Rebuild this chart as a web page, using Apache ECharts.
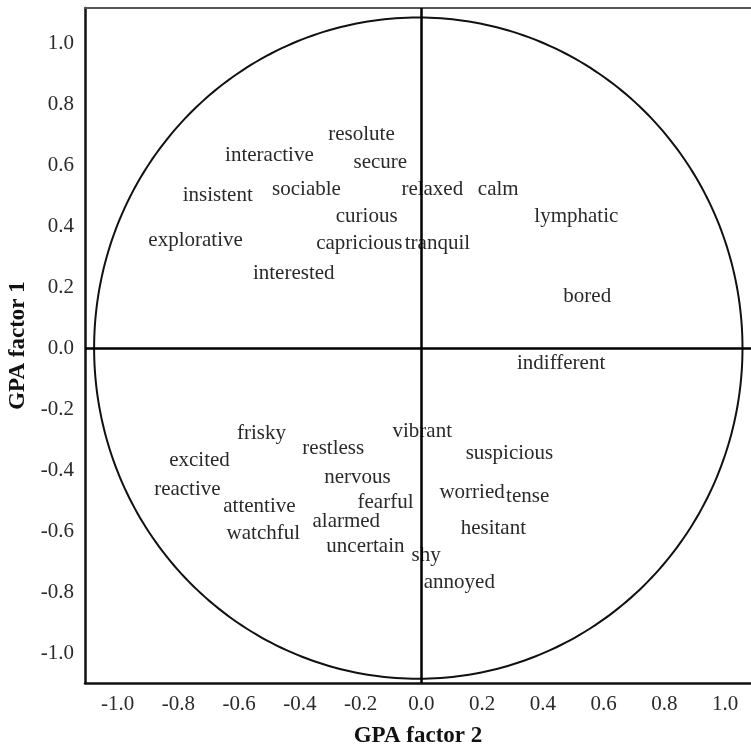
<!DOCTYPE html>
<html>
<head>
<meta charset="utf-8">
<script src="https://cdn.jsdelivr.net/npm/echarts@6/dist/echarts.min.js"></script>
<style>
html,body{margin:0;padding:0;background:#fff;}
#main{width:751px;height:746px;}
</style>
</head>
<body>
<div id="main"></div>
<script>
// ---- data ----
var words = ["resolute","interactive","secure","insistent","sociable","relaxed","calm","curious","lymphatic","explorative","capricious","tranquil","interested","bored","indifferent","frisky","restless","vibrant","excited","suspicious","nervous","reactive","attentive","fearful","worried","tense","alarmed","watchful","hesitant","uncertain","shy","annoyed"];
var factor2 = [-0.197,-0.50,-0.135,-0.67,-0.378,0.036,0.253,-0.18,0.51,-0.743,-0.204,0.053,-0.42,0.546,0.46,-0.526,-0.29,0.003,-0.73,0.29,-0.21,-0.77,-0.533,-0.118,0.167,0.35,-0.247,-0.52,0.237,-0.184,0.016,0.125];
var factor1 = [0.70,0.63,0.61,0.50,0.52,0.52,0.52,0.43,0.43,0.354,0.344,0.344,0.246,0.17,-0.05,-0.279,-0.328,-0.272,-0.37,-0.345,-0.423,-0.463,-0.518,-0.505,-0.472,-0.488,-0.567,-0.607,-0.593,-0.652,-0.679,-0.77];
var tickValues = [-1.0,-0.8,-0.6,-0.4,-0.2,0.0,0.2,0.4,0.6,0.8,1.0];
var xTitle = "GPA factor 2";
var yTitle = "GPA factor 1";

var FONT = "'Liberation Serif','DejaVu Serif',serif";
var chart = echarts.init(document.getElementById('main'), null, {renderer:'canvas'});

var textData = words.map(function(w,i){ return {name:w, value:[factor2[i], factor1[i]]}; });

var option = {
  animation:false,
  backgroundColor:'#fff',
  grid:{left:85, top:8, right:0, bottom:63, containLabel:false, outerBoundsMode:'none'},
  xAxis:[{
    type:'value', min:-1.107, max:1.085, position:'bottom',
    axisLine:{show:true, onZero:false, lineStyle:{color:'#111', width:2.5}},
    axisTick:{show:false},
    splitLine:{show:false},
    axisLabel:{customValues:tickValues, margin:11, color:'#2a2a2a', fontFamily:FONT, fontSize:21,
      formatter:function(v){return v.toFixed(1);}},
    name:xTitle, nameLocation:'middle', nameGap:42,
    nameTextStyle:{fontFamily:FONT, fontSize:23, fontWeight:'bold', color:'#111'}
  },{
    type:'value', min:-1.107, max:1.085, position:'top',
    axisLine:{show:true, onZero:false, lineStyle:{color:'#555', width:2}},
    axisTick:{show:false}, axisLabel:{show:false}, splitLine:{show:false}
  }],
  yAxis:[{
    type:'value', min:-1.098, max:1.115, position:'left',
    axisLine:{show:true, onZero:false, lineStyle:{color:'#111', width:2.5}},
    axisTick:{show:false},
    splitLine:{show:false},
    axisLabel:{customValues:tickValues, margin:11, color:'#2a2a2a', fontFamily:FONT, fontSize:21,
      formatter:function(v){return v.toFixed(1);}},
    name:yTitle, nameLocation:'middle', nameGap:50,
    nameTextStyle:{fontFamily:FONT, fontSize:23, fontWeight:'bold', color:'#111'}
  }],
  series:[{
    type:'custom',
    silent:true,
    data:[[0,0]],
    renderItem:function(params, api){
      var c = [-0.01, 0], rx = 1.067, ry = 1.084, pts = [];
      for (var k=0;k<=360;k++){
        var a = k*Math.PI/180;
        pts.push(api.coord([c[0]+rx*Math.cos(a), c[1]+ry*Math.sin(a)]));
      }
      return {type:'polyline', shape:{points:pts}, style:{stroke:'#111', lineWidth:2, fill:null}};
    },
    markLine:{
      silent:true, symbol:['none','none'], label:{show:false},
      lineStyle:{color:'#000', width:2.5, type:'solid'},
      data:[{xAxis:0},{yAxis:0}]
    }
  },{
    type:'custom',
    silent:true,
    data:textData,
    renderItem:function(params, api){
      var p = api.coord([api.value(0), api.value(1)]);
      return {type:'text', x:p[0], y:p[1], style:{text:words[params.dataIndex], align:'center', verticalAlign:'middle', fill:'#2a2a2a', font:'21px '+FONT}};
    }
  }]
};
chart.setOption(option);
</script>
</body>
</html>
